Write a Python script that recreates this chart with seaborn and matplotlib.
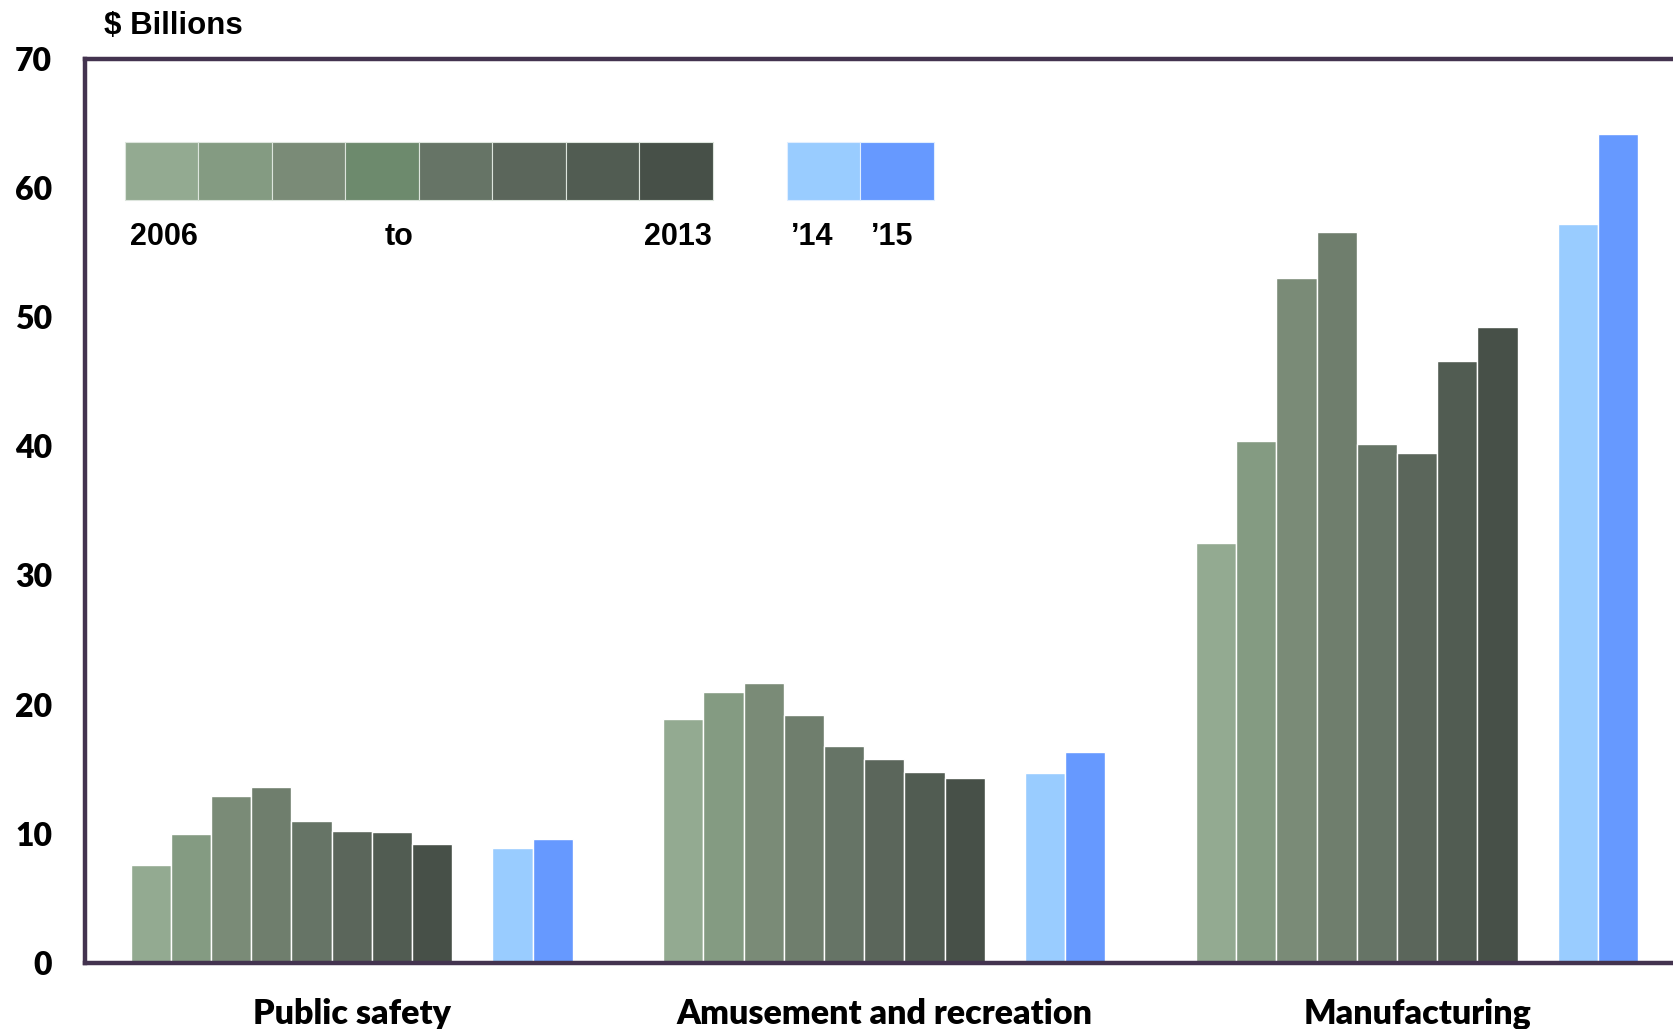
import pandas as pd
import matplotlib.pyplot as plt
import seaborn as sns
from matplotlib.patches import Rectangle

sns.set_theme(style='white')

# ---- data ----
sectors = ['Public safety', 'Amusement and recreation', 'Manufacturing']
years = ['2006', '2007', '2008', '2009', '2010', '2011', '2012', '2013', '2014', '2015']
public_safety = [7.6, 10.0, 12.9, 13.6, 11.0, 10.2, 10.1, 9.2, 8.9, 9.6]
amusement = [18.9, 21.0, 21.7, 19.2, 16.8, 15.8, 14.8, 14.3, 14.7, 16.3]
manufacturing = [32.5, 40.4, 53.0, 56.6, 40.2, 39.5, 46.6, 49.2, 57.2, 64.2]

year_colors = ['#93AA91', '#849B82', '#7A8B77', '#6F7E6D', '#667466',
               '#5B665B', '#515C52', '#475048', '#99CCFF', '#6699FF']
legend_colors = ['#93AA91', '#849B82', '#7A8B77', '#6D8A6D', '#667466',
                 '#5B665B', '#515C52', '#475048']

# long table; an empty hue level makes the gap between 2013 and 2014
rows = []
for sector, vals in zip(sectors, [public_safety, amusement, manufacturing]):
    for yr, v in zip(years, vals):
        rows.append({'sector': sector, 'year': yr, 'value': v})
df = pd.DataFrame(rows)

gap = ' '
hue_order = years[:8] + [gap] + years[8:]
palette = dict(zip(years, year_colors))
palette[gap] = '#FFFFFF'

spine_color = '#43334F'

fig = plt.figure(figsize=(16.73, 10.29), dpi=100)
ax = fig.add_axes([0.051, 0.0643, 0.9552, 0.8786])

sns.barplot(data=df, x='sector', y='value', hue='year', order=sectors,
            hue_order=hue_order, palette=palette, width=0.83,
            edgecolor='white', linewidth=1.0, saturation=1, errorbar=None,
            legend=False, ax=ax)

ax.set_ylim(0, 70)
ax.set_xlim(-0.5, 2.5)
ax.set_yticks(range(0, 71, 10))
ax.set_xlabel('')
ax.set_ylabel('')

for side in ['left', 'top', 'bottom']:
    ax.spines[side].set_color(spine_color)
    ax.spines[side].set_linewidth(3.2)
ax.spines['right'].set_visible(False)

ax.tick_params(axis='y', length=0, pad=24, labelsize=23, labelcolor='black')
ax.tick_params(axis='x', length=0, pad=25, labelsize=24.5, labelcolor='black')
for lbl in ax.get_yticklabels():
    lbl.set_fontfamily(['Lato', 'DejaVu Sans'])
    lbl.set_fontweight('heavy')
for lbl in ax.get_xticklabels():
    lbl.set_fontfamily(['Lato', 'DejaVu Sans'])
    lbl.set_fontweight('heavy')

# unit label
fig.text(0.062, 0.975, '$ Billions', fontsize=22.5, fontweight='bold',
         color='black', family=['Liberation Sans', 'DejaVu Sans'],
         ha='left', va='center')

# colour-strip legend inside the axes
w = 0.04598
for i, c in enumerate(legend_colors):
    ax.add_patch(Rectangle((0.0247 + i * w, 0.8442), w, 0.0637,
                           transform=ax.transAxes, facecolor=c,
                           edgecolor='#DDE5DD', linewidth=0.8))
for i, c in enumerate(year_colors[8:]):
    ax.add_patch(Rectangle((0.4393 + i * 0.04574, 0.8442), 0.04574, 0.0637,
                           transform=ax.transAxes, facecolor=c,
                           edgecolor='#E0EEFF', linewidth=0.8))

leg_font = dict(fontsize=22, fontweight='heavy', color='black',
                transform=ax.transAxes,
                family=['Liberation Sans', 'DejaVu Sans'], va='center')
ax.text(0.028, 0.803, '2006', ha='left', **leg_font)
ax.text(0.1963, 0.803, 'to', ha='center', **leg_font)
ax.text(0.392, 0.803, '2013', ha='right', **leg_font)
ax.text(0.455, 0.803, '\u201914', ha='center', **leg_font)
ax.text(0.505, 0.803, '\u201915', ha='center', **leg_font)

plt.savefig('out.png', dpi=100)
plt.close()
